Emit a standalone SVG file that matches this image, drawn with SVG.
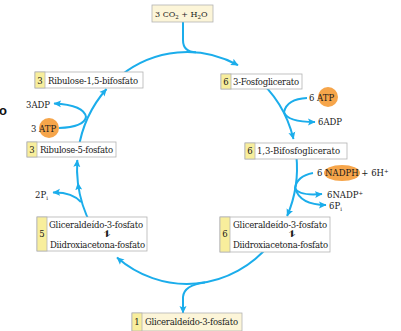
<svg xmlns="http://www.w3.org/2000/svg" width="401" height="331" viewBox="0 0 401 331">
<defs>
<marker id="ah" markerUnits="userSpaceOnUse" markerWidth="9" markerHeight="8" refX="7" refY="4" orient="auto"><path d="M0,0.5 L7.5,4 L0,7.5 L1.5,4 Z" fill="#1badeb"/></marker>
</defs>
<style>
.ln{fill:none;stroke:#1badeb;stroke-width:2}
.t{font-family:"DejaVu Serif","Liberation Serif",serif;font-size:8.5px;fill:#1a1a1a}
.s{font-size:8px}
.bx{fill:#fff;stroke:#b3b3b3;stroke-width:0.8}
.nm{fill:#f8ee9c;stroke:#b3b3b3;stroke-width:0.8}
.cr{fill:#fcf5d8;stroke:#b3b3b3;stroke-width:0.8}
.or{fill:#f6a54a}
.eq{font-family:"DejaVu Sans",sans-serif;font-size:8.5px;fill:#1a1a1a}
</style>
<rect width="401" height="331" fill="#fff"/>
<text x="-1" y="115" style="font-family:'Liberation Sans',Arial,sans-serif;font-weight:bold;font-size:13px" fill="#111">o</text>

<g id="connectors">
<path class="ln" d="M183 22 V40 Q183 52 196 52.3"/>
<path class="ln" d="M120 76 A110 116 0 0 1 238 65.2" marker-end="url(#ah)"/>
<path class="ln" d="M255 76.8 A110 116 0 0 1 293.5 139" marker-end="url(#ah)"/>
<path class="ln" d="M296.3 155 A110 116 0 0 1 287.1 216" marker-end="url(#ah)"/>
<path class="ln" d="M270 244.1 A110 116 0 0 1 117 257.5" marker-end="url(#ah)"/>
<path class="ln" d="M205 282.5 Q184 285 183 297 V313" marker-end="url(#ah)"/>
<path class="ln" d="M91.2 225 A110 116 0 0 1 77.9 183" marker-end="url(#ah)"/>
<path class="ln" d="M77.9 183 A110 116 0 0 1 77.3 160" marker-end="url(#ah)"/>
<path class="ln" d="M78.3 150 A110 116 0 0 1 106.5 89" marker-end="url(#ah)"/>
<path class="ln" d="M59 128 Q84 127 86 117 Q84 105 54 103.5" marker-end="url(#ah)"/>
<path class="ln" d="M81 202 Q72 192 53 192.5" marker-end="url(#ah)"/>
<path class="ln" d="M307 98 Q287 99 284 112 Q287 122 315 122" marker-end="url(#ah)"/>
<path class="ln" d="M313 173 Q297 176 295 188 Q298 196 322 194" marker-end="url(#ah)"/>
<path class="ln" d="M295 188 Q300 205 326 205" marker-end="url(#ah)"/>
</g>

<g id="co2">
<rect class="cr" x="152" y="5" width="61" height="17"/>
<text class="t s" x="155" y="17">3 CO<tspan font-size="5.5" dy="2">2</tspan><tspan dy="-2"> + H</tspan><tspan font-size="5.5" dy="2">2</tspan><tspan dy="-2">O</tspan></text>
</g>

<g id="rubp">
<rect class="bx" x="35" y="72" width="108" height="16"/>
<rect class="nm" x="35" y="72" width="10" height="16"/>
<text class="t" x="40" y="83.5" text-anchor="middle">3</text>
<text class="t" x="48" y="83.5" textLength="90">Ribulose-1,5-bifosfato</text>
</g>

<g id="pga">
<rect class="bx" x="221" y="74" width="81" height="15"/>
<rect class="nm" x="221" y="74" width="10" height="15"/>
<text class="t" x="226" y="85" text-anchor="middle">6</text>
<text class="t" x="233" y="85" textLength="66">3-Fosfoglicerato</text>
</g>

<g id="bpg">
<rect class="bx" x="245" y="143" width="102" height="16"/>
<rect class="nm" x="245" y="143" width="10" height="16"/>
<text class="t" x="250" y="154" text-anchor="middle">6</text>
<text class="t" x="257" y="154" textLength="83">1,3-Bifosfoglicerato</text>
</g>

<g id="ru5p">
<rect class="bx" x="27" y="142" width="89" height="15"/>
<rect class="nm" x="27" y="142" width="10" height="15"/>
<text class="t" x="32" y="153" text-anchor="middle">3</text>
<text class="t" x="40" y="153" textLength="73">Ribulose-5-fosfato</text>
</g>

<g id="g3p5">
<rect class="bx" x="37" y="217" width="110" height="34"/>
<rect class="nm" x="37" y="217" width="10" height="34"/>
<text class="t" x="42" y="237" text-anchor="middle">5</text>
<text class="t" x="49" y="228" textLength="94">Gliceraldeído-3-fosfato</text>
<text class="eq" x="107" y="236.5" text-anchor="middle">⥮</text>
<text class="t" x="50" y="247.5" textLength="95">Diidroxiacetona-fosfato</text>
</g>

<g id="g3p6">
<rect class="bx" x="220" y="217" width="110" height="35"/>
<rect class="nm" x="220" y="217" width="10" height="35"/>
<text class="t" x="225" y="237" text-anchor="middle">6</text>
<text class="t" x="233" y="228" textLength="94">Gliceraldeído-3-fosfato</text>
<text class="eq" x="292" y="237" text-anchor="middle">⥮</text>
<text class="t" x="233" y="248" textLength="95">Diidroxiacetona-fosfato</text>
</g>

<g id="g3p1">
<rect class="cr" x="132" y="313" width="110" height="18"/>
<rect class="nm" x="132" y="313" width="10" height="18"/>
<text class="t" x="137" y="325" text-anchor="middle">1</text>
<text class="t" x="145" y="325" textLength="93">Gliceraldeído-3-fosfato</text>
</g>

<g id="atp-left">
<circle class="or" cx="49" cy="128" r="10"/>
<text class="t" x="31" y="131.5">3 ATP</text>
<text class="t" x="26" y="108">3ADP</text>
</g>

<g id="atp-right">
<circle class="or" cx="328" cy="97" r="10"/>
<text class="t" x="309" y="100.5">6 ATP</text>
<text class="t" x="318" y="125">6ADP</text>
</g>

<g id="nadph">
<ellipse class="or" cx="342" cy="173" rx="18" ry="8"/>
<text class="t" x="317" y="176">6 NADPH + 6H<tspan font-size="5.5" dy="-3">+</tspan></text>
<text class="t" x="327" y="198">6NADP<tspan font-size="5.5" dy="-3">+</tspan></text>
<text class="t" x="329" y="209">6P<tspan font-size="5.5" dy="2">i</tspan></text>
</g>

<g id="pi-left">
<text class="t" x="35" y="198">2P<tspan font-size="5.5" dy="2">i</tspan></text>
</g>
</svg>
